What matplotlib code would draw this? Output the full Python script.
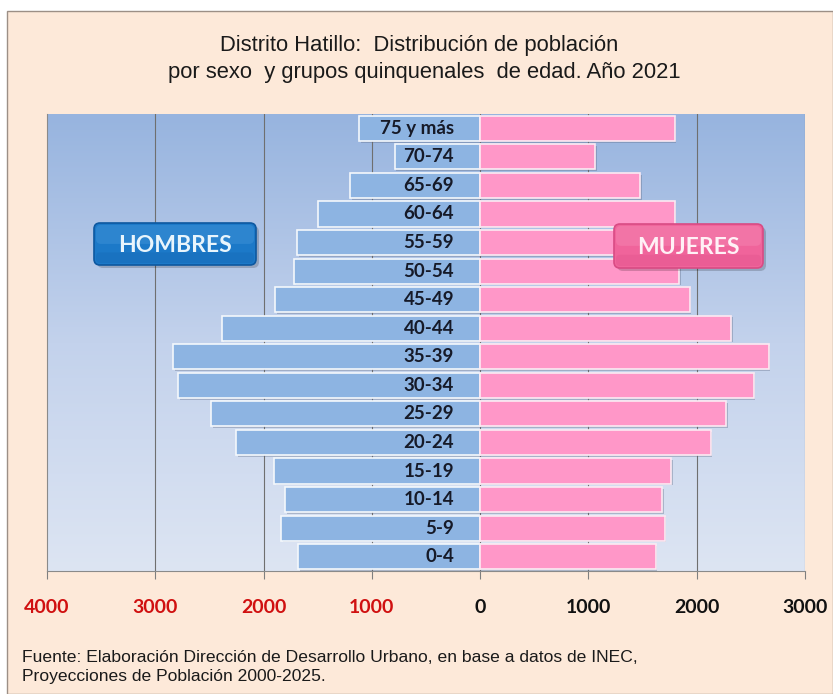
import numpy as np
import matplotlib
matplotlib.use("Agg")
import matplotlib.pyplot as plt
import matplotlib.patheffects as pe
from matplotlib.colors import LinearSegmentedColormap
from matplotlib.patches import Rectangle, FancyBboxPatch

# Datos: grupos quinquenales (de abajo hacia arriba)
grupos = ['0-4', '5-9', '10-14', '15-19', '20-24', '25-29', '30-34', '35-39',
          '40-44', '45-49', '50-54', '55-59', '60-64', '65-69', '70-74', '75 y más']
hombres = [1680, 1840, 1800, 1905, 2255, 2485, 2790, 2835,
           2385, 1895, 1715, 1690, 1495, 1200, 790, 1120]
mujeres = [1620, 1705, 1680, 1765, 2130, 2270, 2525, 2665,
           2320, 1935, 1835, 1800, 1795, 1475, 1065, 1795]
ticks = [-4000, -3000, -2000, -1000, 0, 1000, 2000, 3000]

W, H = 833, 694
fig = plt.figure(figsize=(W / 100, H / 100), dpi=100)
fig.patch.set_facecolor('white')

# fondo color durazno con borde
fig.patches.append(Rectangle((7 / W, 0), 1 - 7 / W, 1 - 11 / H, transform=fig.transFigure,
                             facecolor='#FDE9D9', edgecolor='#9c8f86', lw=1.0, zorder=-5))

ax = fig.add_axes([47 / W, 1 - 571 / H, (805 - 47) / W, (571 - 114) / H])
ax.set_facecolor('none')

# degradado del área de trazado
cmap = LinearSegmentedColormap.from_list('fondo', ['#DDE5F3', '#C3D2EC', '#97B4DF'])
grad = np.linspace(0, 1, 256).reshape(-1, 1)
ax.imshow(grad, extent=[-4000, 3000, -0.5, 15.5], origin='lower', aspect='auto',
          cmap=cmap, zorder=0)

ax.set_xlim(-4000, 3000)
ax.set_ylim(-0.5, 15.5)

for t in ticks[1:]:
    ax.axvline(t, color='#6f6f6f', lw=0.8, zorder=1)

y = np.arange(len(grupos))
sombra = [pe.withSimplePatchShadow(offset=(1.2, -1.2), shadow_rgbFace='#5a6680', alpha=0.35)]
bh = ax.barh(y, [-v for v in hombres], height=0.88, color='#8DB4E2', edgecolor='#F4F8FC',
             lw=1.2, zorder=3)
bm = ax.barh(y, mujeres, height=0.88, color='#FF97C8', edgecolor='#FCEAF3',
             lw=1.2, zorder=3)
for b in list(bh) + list(bm):
    b.set_path_effects(sombra)

for yi, g in zip(y, grupos):
    ax.text(-240, yi, g, ha='right', va='center', fontsize=13.5, fontweight='bold',
            family=['Lato', 'DejaVu Sans'], color='#161a28', zorder=5)

ax.set_xticks(ticks)
ax.set_xticklabels([str(abs(t)) for t in ticks])
for lab, t in zip(ax.get_xticklabels(), ticks):
    lab.set_color('#D01010' if t < 0 else '#111111')
    lab.set_fontweight('bold')
    lab.set_fontfamily(['Lato', 'DejaVu Sans'])
    lab.set_fontsize(14)
ax.tick_params(axis='x', direction='out', length=6, color='#7f7f7f', pad=14)
ax.set_yticks([])
for s in ['top', 'right']:
    ax.spines[s].set_visible(False)
ax.spines['bottom'].set_color('#8a8a8a')
ax.spines['left'].set_color('#8a8a8a')
ax.spines['bottom'].set_zorder(6)

# capa superior en coordenadas de píxel
ov = fig.add_axes([0, 0, 1, 1], zorder=10)
ov.set_xlim(0, W)
ov.set_ylim(H, 0)
ov.axis('off')


def boton(x0, y0, x1, y1, color, borde, claro, oscuro, texto, tcolor):
    ov.add_patch(FancyBboxPatch((x0 + 3, y0 + 3), x1 - x0, y1 - y0,
                                boxstyle='round,pad=0,rounding_size=6',
                                facecolor='#000000', alpha=0.18, lw=0))
    ov.add_patch(FancyBboxPatch((x0, y0), x1 - x0, y1 - y0,
                                boxstyle='round,pad=0,rounding_size=6',
                                facecolor=color, edgecolor=borde, lw=1.2))
    # brillo superior y sombra inferior suaves
    ov.add_patch(FancyBboxPatch((x0 + 2, y0 + 2), x1 - x0 - 4, (y1 - y0) * 0.45,
                                boxstyle='round,pad=0,rounding_size=5',
                                facecolor=claro, alpha=0.18, lw=0))
    ov.add_patch(FancyBboxPatch((x0 + 2, y0 + (y1 - y0) * 0.7), x1 - x0 - 4, (y1 - y0) * 0.3 - 2,
                                boxstyle='round,pad=0,rounding_size=4',
                                facecolor=oscuro, alpha=0.15, lw=0))
    ov.text((x0 + x1) / 2, (y0 + y1) / 2 + 1, texto, ha='center', va='center',
            fontsize=16.5, fontweight='bold', family=['Lato', 'DejaVu Sans'], color=tcolor)


boton(94, 223, 256, 265, '#1C79C8', '#0D58A0', '#7FC0F4', '#0A4F96', 'HOMBRES', '#E9F5FC')
boton(614, 224, 763, 268, '#F0649B', '#D94B84', '#FFC0DA', '#C83A74', 'MUJERES', '#FFF1F6')

fuente_t = ['Liberation Sans', 'DejaVu Sans']
ov.text(419, 45, 'Distrito Hatillo:  Distribución de población', ha='center', va='center',
        fontsize=15.8, family=fuente_t, color='#1a1a1a')
ov.text(424, 72, 'por sexo  y grupos quinquenales  de edad. Año 2021', ha='center', va='center',
        fontsize=15.8, family=fuente_t, color='#1a1a1a')

ov.text(22, 657, 'Fuente: Elaboración Dirección de Desarrollo Urbano, en base a datos de INEC,',
        ha='left', va='center', fontsize=12.6, family=fuente_t, color='#1a1a1a')
ov.text(22, 677, 'Proyecciones de Población 2000-2025.',
        ha='left', va='center', fontsize=12.6, family=fuente_t, color='#1a1a1a')

fig.savefig('out.png', dpi=100)
